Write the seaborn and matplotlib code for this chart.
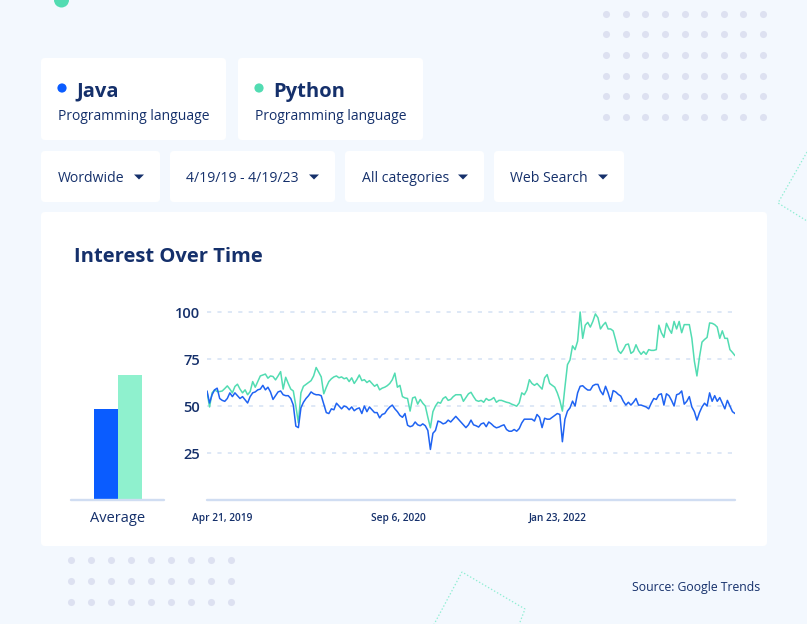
import numpy as np
import pandas as pd
import matplotlib.pyplot as plt
import seaborn as sns
from matplotlib.patches import FancyBboxPatch, Circle, Polygon

# weekly interest, Apr 21 2019 -> Apr 16 2023
java = [58, 51.6, 56, 58.6, 59.5, 54, 53, 52.5, 54, 57,
        55, 57, 55.5, 54, 55, 53.3, 51.6, 55, 57, 57.5,
        58.6, 59, 61, 58.6, 60, 57.5, 53.5, 55.5, 57.5, 58,
        56, 55.5, 55.5, 54, 50.5, 39.3, 38.5, 49, 52, 54,
        55.5, 57.5, 56.5, 56, 56, 55.5, 51, 46.5, 46, 48.5,
        48, 51.5, 50, 48.5, 50, 49.5, 48, 49.5, 47.5, 48.5,
        49, 46, 50, 47, 49.5, 48, 46.5, 46.5, 43.7, 45.5,
        46, 48, 49.5, 50.5, 48.5, 47, 45, 44, 46, 39.8,
        39, 39.5, 41.5, 40, 39.5, 40.5, 39.5, 37, 26.9, 35.5,
        37, 42, 41.5, 40.5, 41, 42.5, 41.5, 43, 44.5, 43,
        41.5, 40, 38.5, 40, 42.5, 40, 39.5, 38.8, 40.5, 41,
        39, 41.5, 40.5, 39.2, 38.4, 38.8, 39.5, 40, 37.5, 36.6,
        36.6, 37.5, 36.6, 38, 41, 43, 43, 43, 43, 42,
        45.5, 44, 38.5, 43.5, 43, 43, 44, 45, 46, 45.5,
        31, 43, 47.3, 49, 52.6, 50, 57, 60.5, 60.8, 59.5,
        58.5, 58.5, 60.8, 61.5, 61.5, 58, 56, 60.5, 57, 52.5,
        58.2, 57.5, 56.2, 55.3, 52.5, 50.5, 52, 50.5, 52, 54,
        50.5, 50.5, 50, 49.5, 48.5, 51.5, 54, 53.5, 56, 56.5,
        50.5, 56.5, 55.5, 53, 50, 56, 56.5, 58, 51, 52.5,
        55, 49.5, 47, 42.5, 46.5, 49.5, 51.5, 50, 57, 52.5,
        55.5, 52.5, 54.5, 51.5, 48.5, 53, 50, 47, 46]

python = [57.7, 49.5, 57, 58.6, 57.7, 57.7, 58, 59.3, 60.7, 59,
          57, 60.4, 61.6, 59, 57, 58.6, 56, 57.7, 63, 60,
          63, 66, 66.5, 67, 64.8, 66, 65.7, 63.9, 66, 68.3,
          59, 65.3, 62, 59, 58, 50, 41, 57, 60.5, 61.5,
          62.5, 63.5, 66, 70.5, 68, 65.5, 56.5, 60, 63, 64.5,
          65.5, 66, 65, 65.5, 64.5, 65, 63, 65, 62, 64,
          66.5, 63.5, 64, 62.5, 63.5, 62, 60.5, 61.5, 58.6, 59.5,
          60, 60.8, 62, 64, 67.5, 60, 61, 55, 54.3, 54,
          47.3, 54.3, 54.8, 51, 53.5, 51.5, 50, 44, 38.4, 47,
          50, 52, 51.5, 54, 54.9, 53, 53.5, 55, 56, 56,
          56, 52.5, 54.5, 56.5, 57.3, 55, 53, 52.5, 53, 52,
          54, 53, 53.5, 54.5, 52, 53, 53, 52.5, 52, 51.7,
          51, 50.5, 49.9, 51.7, 57, 56, 58.5, 64, 62, 61,
          62, 60.5, 59, 65, 66.7, 62, 61, 60, 57, 53,
          47.3, 60, 72, 74.5, 82, 80, 84.5, 100, 86, 93,
          94.5, 92, 95, 99, 97, 91, 93, 94.5, 91, 91,
          90, 85, 79.5, 78, 80, 82.6, 83, 78, 79, 82.6,
          79.5, 77.5, 79, 77.5, 80, 79.6, 79.6, 80, 93, 89,
          86.5, 94, 91, 88.7, 95, 91, 95, 89, 93.3, 93.3,
          93.3, 86, 73.8, 66, 76, 84, 85.4, 86.5, 94.2, 94,
          93.3, 92, 86, 90, 86, 86, 80, 78.5, 76.8]

avg_terms = ["Java", "Python"]
avg_values = [48.5, 66.5]
y_ticks = [25, 50, 75, 100]
date_labels = ["Apr 21, 2019", "Sep 6, 2020", "Jan 23, 2022"]
filters = ["Wordwide", "4/19/19 - 4/19/23", "All categories", "Web Search"]

navy = "#15306b"
blue_line = "#1f63f2"
green_line = "#52dcb2"
blue_bar = "#0a5cff"
green_bar = "#8ff1ce"
bg_col = "#f3f8fe"

sns.set_theme(style="white")
plt.rcParams['font.family'] = ['Open Sans', 'DejaVu Sans']
plt.rcParams['lines.scale_dashes'] = False

fig = plt.figure(figsize=(8.07, 6.24), dpi=100)
fig.patch.set_facecolor(bg_col)

# page furniture, drawn in pixel units
bg = fig.add_axes([0, 0, 1, 1], zorder=0)
bg.set_xlim(0, 807)
bg.set_ylim(624, 0)
bg.axis('off')

def card(x, y, w, h):
    bg.add_patch(FancyBboxPatch((x, y), w, h, boxstyle="round,pad=0,rounding_size=4",
                                fc="white", ec="none"))

bg.add_patch(Circle((61.5, 0), 7.5, fc=green_line, ec="none"))

gx, gy = np.meshgrid(np.linspace(606, 763, 9), np.linspace(13.5, 117, 6))
bg.scatter(gx.ravel(), gy.ravel(), s=26, color="#dde1f1", lw=0)
gx, gy = np.meshgrid(np.linspace(71, 231, 9), np.linspace(560, 602, 3))
bg.scatter(gx.ravel(), gy.ravel(), s=26, color="#dde1f1", lw=0)

bg.add_patch(Polygon([[807, 152], [778, 203], [807, 221]], closed=False, fill=False,
                     ec="#8eeed3", lw=0.9, ls=(0, (1, 1.5))))
bg.add_patch(Polygon([[431, 630], [462, 572], [525, 609], [517, 630]], closed=False, fill=False,
                     ec="#8eeed3", lw=0.9, ls=(0, (1, 1.5))))

card(41, 58, 185, 82)
card(238, 58, 185, 82)
for x0, term, col in [(41, "Java", blue_bar), (238, "Python", green_line)]:
    bg.add_patch(Circle((x0 + 21, 88), 4.6, fc=col, ec="none"))
    bg.text(x0 + 35, 96.5, term, fontsize=14.5, fontweight="bold", color=navy, va="baseline")
    bg.text(x0 + 17, 120.5, "Programming language", fontsize=10, color=navy, va="baseline")

drop_boxes = [(41, 119), (170, 165), (345, 139), (494, 130)]
for (x0, w), label in zip(drop_boxes, filters):
    card(x0, 151, w, 51)
    bg.text(x0 + 16.5, 182.3, label, fontsize=10.1, color=navy, va="baseline")
    tx = x0 + w - 21
    bg.add_patch(Polygon([[tx - 5, 174.5], [tx + 5, 174.5], [tx, 179.5]], fc=navy, ec="none"))

card(41, 212, 726, 334)
bg.text(74, 262.3, "Interest Over Time", fontsize=14.5, fontweight="bold", color=navy, va="baseline")
bg.text(760, 591, "Source: Google Trends", fontsize=8.8, color=navy, ha="right", va="baseline")

# line chart
df = pd.DataFrame({
    "week": list(range(len(java))) * 2,
    "interest": java + python,
    "term": ["Java"] * len(java) + ["Python"] * len(python),
})
ax = fig.add_axes([207 / 807, 1 - 500 / 624, 528 / 807, 200 / 624], zorder=2)
ax.patch.set_alpha(0)
sns.lineplot(data=df, x="week", y="interest", hue="term", hue_order=["Python", "Java"],
             palette=[green_line, blue_line], lw=1.1, legend=False, ax=ax, zorder=3)
ax.set_xlim(0, len(java) - 1)
ax.set_ylim(0, 106.4)
ax.set_yticks(y_ticks)
ax.set_yticklabels([str(v) for v in y_ticks], fontsize=10.5, fontweight="semibold", color=navy)
ax.set_xticks([6, 75.5, 138.3])
ax.set_xticklabels(date_labels, fontsize=7.3, fontweight="semibold", color=navy)
ax.tick_params(length=0)
ax.tick_params(axis='y', pad=5)
ax.tick_params(axis='x', pad=9)
ax.grid(True, axis='y', color="#d5e1f4", lw=1.1, ls=(0, (3, 4.5)))
ax.axhline(0, color="#d0ddf2", lw=1.7, clip_on=False)
ax.set_xlabel("")
ax.set_ylabel("")
sns.despine(ax=ax, left=True, bottom=True)

# average bars
bx = fig.add_axes([71 / 807, 1 - 500 / 624, 93 / 807, 200 / 624], zorder=2)
bx.patch.set_alpha(0)
sns.barplot(x=["Average", "Average"], y=avg_values, hue=avg_terms,
            palette=[blue_bar, green_bar], width=1, saturation=1, legend=False,
            linewidth=0, edgecolor="none", ax=bx)
bx.set_xlim(-0.979, 0.958)
bx.set_ylim(0, 106.4)
bx.set_yticks([])
bx.tick_params(length=0, pad=8)
for t in bx.get_xticklabels():
    t.set_fontsize(10.5)
    t.set_color(navy)
bx.axhline(0, color="#d0ddf2", lw=1.7, clip_on=False)
sns.despine(ax=bx, left=True, bottom=True)

fig.savefig("out.png", dpi=100, facecolor=fig.get_facecolor())
